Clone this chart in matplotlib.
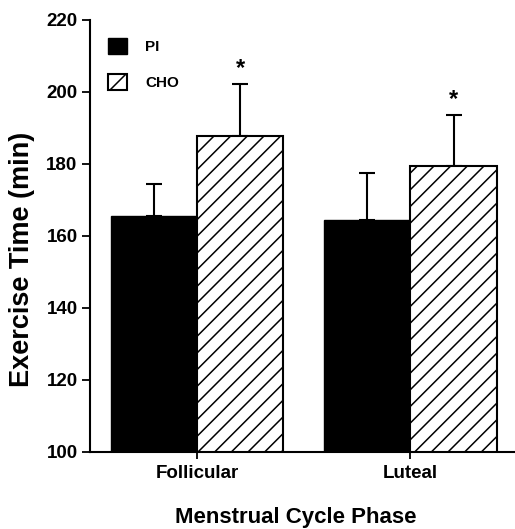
import matplotlib
matplotlib.use("Agg")
import matplotlib.pyplot as plt
import numpy as np

# data
phases = ["Follicular", "Luteal"]
treatments = ["PI", "CHO"]
pl_means = [165.5, 164.5]
pl_err = [9.0, 13.0]
cho_means = [187.8, 179.5]
cho_err = [14.5, 14.0]
yticks = [100, 120, 140, 160, 180, 200, 220]

plt.rcParams['font.family'] = ['Liberation Sans', 'DejaVu Sans']
plt.rcParams['font.weight'] = 'bold'
plt.rcParams['hatch.linewidth'] = 1.1

fig = plt.figure(figsize=(5.15, 5.29), dpi=100)
ax = fig.add_axes([90/515, 1-452/529, 1-90/515, (452-20)/529])

x = np.arange(len(phases))
w = 0.404

ax.bar(x - w/2, pl_means, w, color="black", edgecolor="black",
       linewidth=1.0, label=treatments[0], zorder=2)
ax.bar(x + w/2, cho_means, w, color="white", edgecolor="black",
       hatch="//", linewidth=1.5, label=treatments[1], zorder=2)

ax.errorbar(x - w/2, pl_means, yerr=[np.zeros(2), pl_err], fmt="none",
            ecolor="black", elinewidth=1.5, capsize=6, capthick=1.5, zorder=1)
ax.errorbar(x + w/2, cho_means, yerr=[np.zeros(2), cho_err], fmt="none",
            ecolor="black", elinewidth=1.5, capsize=6, capthick=1.5, zorder=1)

# significance marks
for xi, m, e in zip(x + w/2, cho_means, cho_err):
    ax.annotate("*", (xi, m + e), xytext=(0, 3), textcoords="offset points",
                ha="center", va="bottom", fontsize=17, fontweight="bold")

ax.set_ylim(100, 220)
ax.set_xlim(-0.502, 1.49)
ax.set_yticks(yticks)
ax.set_xticks(x)
ax.set_xticklabels(phases)
ax.tick_params(axis="both", labelsize=13.5, width=1.3, length=6, direction="out")
ax.tick_params(axis="x", pad=4, length=5)
ax.tick_params(axis="y", pad=3)

for s in ["top", "right"]:
    ax.spines[s].set_visible(False)
for s in ["left", "bottom"]:
    ax.spines[s].set_linewidth(1.5)

fig.text(22/515, 1-259/529, "Exercise Time (min)", fontsize=19.5,
         fontweight="bold", rotation=90, ha="center", va="center")
fig.text(296/515, 1-518/529, "Menstrual Cycle Phase", fontsize=16,
         fontweight="bold", ha="center", va="center")

ax.legend(loc="upper left", bbox_to_anchor=(108/515, 1-38/529),
          bbox_transform=fig.transFigure, frameon=False, fontsize=11,
          handlelength=1.24, handleheight=1.2, handletextpad=1.2,
          labelspacing=1.3, borderpad=0, borderaxespad=0)

fig.savefig("out.png", dpi=100)
